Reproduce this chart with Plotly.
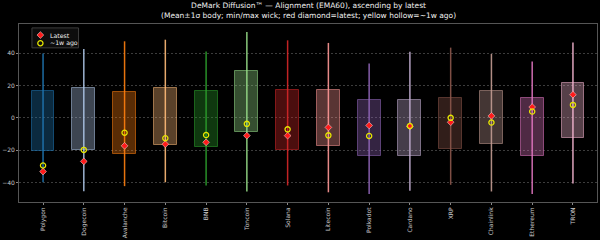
import plotly.graph_objects as go

names = ["Polygon", "Dogecoin", "Avalanche", "Bitcoin", "BNB", "Toncoin", "Solana",
         "Litecoin", "Polkadot", "Cardano", "XRP", "Chainlink", "Ethereum", "TRON"]
body_hi = [16.3, 18.5, 15.7, 18.2, 16.7, 29.2, 17.5, 17.3, 10.8, 11.0, 12.2, 16.7, 12.2, 21.8]
body_lo = [-20.2, -20.0, -22.2, -16.9, -17.9, -9.0, -19.8, -17.5, -23.4, -23.7, -19.4, -15.9, -23.4, -12.4]
wick_hi = [39.8, 42.6, 47.3, 48.3, 41.0, 53.0, 47.9, 46.3, 33.6, 40.8, 43.4, 39.5, 34.9, 46.5]
wick_lo = [-39.8, -45.3, -42.2, -39.8, -41.8, -45.5, -41.8, -46.0, -47.1, -45.1, -41.4, -45.5, -47.1, -40.6]
latest = [-33.2, -26.9, -17.3, -16.3, -15.1, -11.0, -11.0, -5.9, -4.7, -5.3, -2.7, 1.2, 6.7, 14.3]
week_ago = [-29.4, -19.8, -9.2, -12.6, -10.6, -3.7, -7.1, -10.8, -11.2, -5.0, 0.0, -2.9, 3.9, 8.0]
colors = ["#1f77b4", "#aec7e8", "#ff7f0e", "#ffbb78", "#2ca02c", "#98df8a", "#d62728",
          "#ff9896", "#9467bd", "#c5b0d5", "#8c564b", "#c49c94", "#e377c2", "#f7b6d2"]
y_ticks = [-40, -20, 0, 20, 40]
legend_labels = ["Latest", "~1w ago"]
title_lines = ["DeMark Diffusion™ — Alignment (EMA60), ascending by latest",
               "(Mean±1σ body; min/max wick; red diamond=latest; yellow hollow=~1w ago)"]

RED = "#ff1a1a"
YEL = "#e6e600"
DIA = dict(symbol="diamond", size=5.2, color=RED, line=dict(color="#f4c8c8", width=0.6))
CIR = dict(symbol="circle-open", size=5.2, color=YEL, line=dict(color=YEL, width=1.3))


def rgba(h, a):
    h = h.lstrip("#")
    r, g, b = int(h[0:2], 16), int(h[2:4], 16), int(h[4:6], 16)
    return f"rgba({r},{g},{b},{a})"


fig = go.Figure()

# bodies
fig.add_trace(go.Bar(
    x=names, y=[h - l for h, l in zip(body_hi, body_lo)], base=body_lo, width=0.56,
    marker=dict(color=[rgba(c, 0.35) for c in colors],
                line=dict(color=[rgba(c, 0.55) for c in colors], width=1)),
    showlegend=False, hoverinfo="skip"))

# wicks
for n, hi, lo, c in zip(names, wick_hi, wick_lo, colors):
    fig.add_trace(go.Scatter(x=[n, n], y=[lo, hi], mode="lines",
                             line=dict(color=rgba(c, 0.9), width=1.5),
                             showlegend=False, hoverinfo="skip"))

fig.add_trace(go.Scatter(x=names, y=latest, mode="markers", name="Latest",
                         showlegend=False, marker=DIA))
fig.add_trace(go.Scatter(x=names, y=week_ago, mode="markers", name="~1w ago",
                         showlegend=False, marker=CIR))

# custom compact legend (overlay axes in [0,1])
leg_x = 0.037
leg_y = [0.938, 0.892]
fig.add_trace(go.Scatter(x=[leg_x], y=[leg_y[0]], xaxis="x2", yaxis="y2", mode="markers",
                         showlegend=False, hoverinfo="skip", marker=DIA))
fig.add_trace(go.Scatter(x=[leg_x], y=[leg_y[1]], xaxis="x2", yaxis="y2", mode="markers",
                         showlegend=False, hoverinfo="skip", marker=CIR))
fig.add_shape(type="rect", xref="paper", yref="paper", x0=0.0224, x1=0.103, y0=0.866, y1=0.978,
              fillcolor="rgba(14,14,14,0.9)", line=dict(color="#3c3c3c", width=1), layer="below")
for lab, yy in zip(legend_labels, leg_y):
    fig.add_annotation(x=0.05, y=yy, xref="paper", yref="paper", text=lab, showarrow=False,
                       xanchor="left", yanchor="middle", font=dict(size=6.2, color="#eeeeee"))

# title as annotation
fig.add_annotation(x=0.5, y=1.142, xref="paper", yref="paper", text="<br>".join(title_lines),
                   showarrow=False, xanchor="center", yanchor="top", align="center",
                   font=dict(size=7.5, color="#f0f0f0", family="DejaVu Sans"))

axis_common = dict(showline=True, linecolor="#555555", mirror=True, ticks="outside",
                   ticklen=2, tickcolor="#888888", zeroline=False,
                   tickfont=dict(size=6, color="#cccccc", family="DejaVu Sans"))

fig.update_layout(
    width=600, height=240,
    margin=dict(l=17, r=2, t=24, b=37),
    paper_bgcolor="#000000", plot_bgcolor="#000000",
    font=dict(family="DejaVu Sans", color="#dddddd", size=6),
    showlegend=False,
    bargap=0,
    xaxis=dict(type="category", range=[-0.59, 13.59], tickangle=-90, showgrid=False,
               **axis_common),
    yaxis=dict(range=[-52, 58], tickvals=y_ticks, ticktext=["−40", "−20", "0", "20", "40"],
               showgrid=True, gridcolor="#3c3c3c", griddash="2px,2px", gridwidth=0.7,
               **axis_common),
    xaxis2=dict(overlaying="x", range=[0, 1], visible=False),
    yaxis2=dict(overlaying="y", range=[0, 1], visible=False),
)

fig.write_html("out.html")
